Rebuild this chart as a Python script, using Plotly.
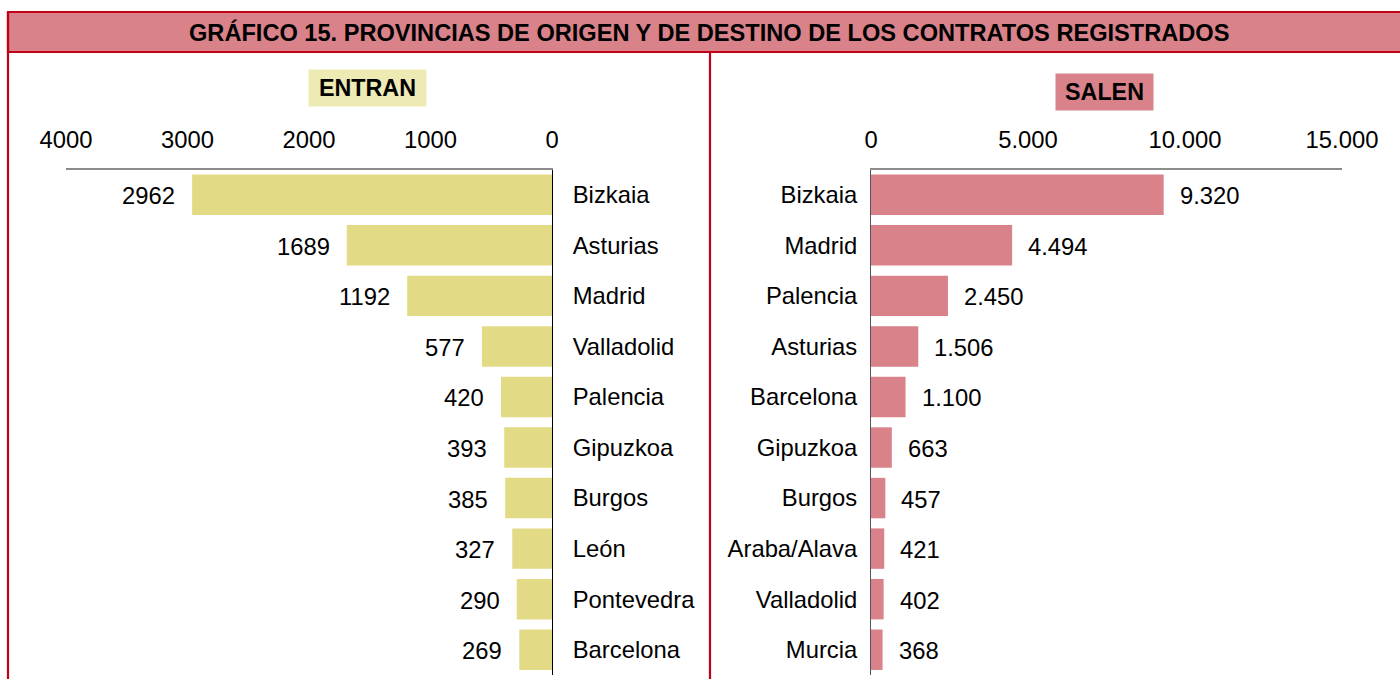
import plotly.graph_objects as go

# ---- data ----
entran_cats = ["Bizkaia", "Asturias", "Madrid", "Valladolid", "Palencia",
               "Gipuzkoa", "Burgos", "León", "Pontevedra", "Barcelona"]
entran_vals = [2962, 1689, 1192, 577, 420, 393, 385, 327, 290, 269]

salen_cats = ["Bizkaia", "Madrid", "Palencia", "Asturias", "Barcelona",
              "Gipuzkoa", "Burgos", "Araba/Alava", "Valladolid", "Murcia"]
salen_vals = [9320, 4494, 2450, 1506, 1100, 663, 457, 421, 402, 368]

entran_ticks = [4000, 3000, 2000, 1000, 0]
salen_ticks = [0, 5000, 10000, 15000]
salen_ticktext = ["0", "5.000", "10.000", "15.000"]

title_text = "GRÁFICO 15. PROVINCIAS DE ORIGEN Y DE DESTINO DE LOS CONTRATOS REGISTRADOS"

# ---- style ----
W, H = 1400, 679
FONT = "Liberation Sans, Arial, sans-serif"
FS = 23.8
YELLOW = "#E3DA85"
YELLOW_LIGHT = "#EEEAB4"
PINK = "#D9828A"
RED = "#C00018"

def px(x):
    return x / W

def py(y):
    return 1 - y / H

def thousands(v):
    return f"{v:,}".replace(",", ".")

fig = go.Figure()
fig.add_trace(go.Bar(y=entran_cats, x=entran_vals, orientation="h",
                     marker=dict(color=YELLOW, line=dict(width=0)),
                     width=0.8, xaxis="x", yaxis="y", hoverinfo="x+y"))
fig.add_trace(go.Bar(y=salen_cats, x=salen_vals, orientation="h",
                     marker=dict(color=PINK, line=dict(width=0)),
                     width=0.8, xaxis="x2", yaxis="y2", hoverinfo="x+y"))

annotations = []
for c, v in zip(entran_cats, entran_vals):
    annotations.append(dict(x=v, y=c, xref="x", yref="y", text=str(v),
                            showarrow=False, xanchor="right", xshift=-15,
                            yshift=-1,
                            font=dict(family=FONT, size=FS, color="black")))
for c, v in zip(salen_cats, salen_vals):
    annotations.append(dict(x=v, y=c, xref="x2", yref="y2", text=thousands(v),
                            showarrow=False, xanchor="left", xshift=14,
                            yshift=-1,
                            font=dict(family=FONT, size=FS, color="black")))

annotations.append(dict(x=px(709), y=py(32), xref="paper", yref="paper",
                        text="<b>" + title_text + "</b>", showarrow=False,
                        xanchor="center", yanchor="middle",
                        font=dict(family=FONT, size=23.6, color="black")))
annotations.append(dict(x=px(367.5), y=py(88), xref="paper", yref="paper",
                        text="<b>ENTRAN</b>", showarrow=False,
                        xanchor="center", yanchor="middle",
                        width=117, height=36, borderpad=0,
                        bgcolor=YELLOW_LIGHT,
                        font=dict(family=FONT, size=23.3, color="black")))
annotations.append(dict(x=px(1104.5), y=py(92), xref="paper", yref="paper",
                        text="<b>SALEN</b>", showarrow=False,
                        xanchor="center", yanchor="middle",
                        width=97, height=36, borderpad=0,
                        bgcolor=PINK,
                        font=dict(family=FONT, size=23.3, color="black")))

shapes = [
    dict(type="rect", xref="paper", yref="paper",
         x0=px(8), x1=px(1403), y0=py(52), y1=py(12),
         fillcolor=PINK, line=dict(color=RED, width=2.2), layer="below"),
    dict(type="line", xref="paper", yref="paper",
         x0=px(8), x1=px(8), y0=py(12), y1=py(690),
         line=dict(color=RED, width=2.2)),
    dict(type="line", xref="paper", yref="paper",
         x0=px(710), x1=px(710), y0=py(52), y1=py(690),
         line=dict(color=RED, width=2.2)),
]

ydom = [py(675), py(169.5)]

common_axis = dict(showgrid=False, zeroline=False, automargin=False,
                   ticks="", fixedrange=True,
                   tickfont=dict(family=FONT, size=FS, color="black"))

fig.update_layout(
    width=W, height=H, autosize=False,
    margin=dict(l=0, r=0, t=0, b=0, pad=0, autoexpand=False),
    paper_bgcolor="white", plot_bgcolor="white",
    showlegend=False, bargap=0.2,
    font=dict(family=FONT, size=FS, color="black"),
    xaxis=dict(domain=[px(66), px(552)], range=[4000, 0], side="top",
               anchor="y", tickvals=entran_ticks,
               showline=True, linecolor="#8c8c8c", linewidth=1.5,
               ticklabelstandoff=10, **common_axis),
    yaxis=dict(domain=ydom, anchor="x", side="right",
               categoryorder="array", categoryarray=entran_cats,
               range=[9.5, -0.5],
               showline=True, linecolor="black", linewidth=1,
               ticklabelstandoff=15, **common_axis),
    xaxis2=dict(domain=[px(871), px(1342)], range=[0, 15000], side="top",
                anchor="y2", tickvals=salen_ticks, ticktext=salen_ticktext,
                showline=True, linecolor="#8c8c8c", linewidth=1.5,
                ticklabelstandoff=10, **common_axis),
    yaxis2=dict(domain=ydom, anchor="x2", side="left",
                categoryorder="array", categoryarray=salen_cats,
                range=[9.5, -0.5],
                showline=True, linecolor="#555555", linewidth=1,
                ticklabelstandoff=8, **common_axis),
    annotations=annotations,
    shapes=shapes,
)

fig.write_html("out.html", config={"displayModeBar": False},
               post_script="document.body.style.margin='0';document.body.style.overflow='hidden';")
